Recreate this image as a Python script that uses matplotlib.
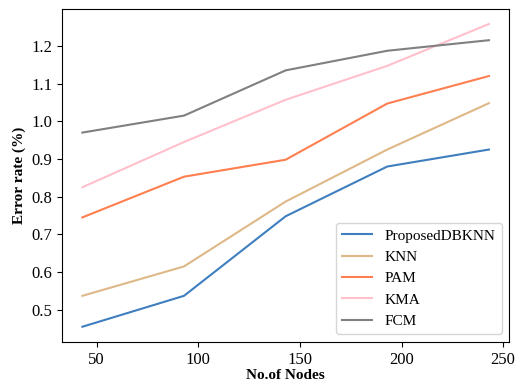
import matplotlib
matplotlib.use("Agg")
import matplotlib.pyplot as plt

nodes = [43, 93, 143, 193, 243]
proposed_dbknn = [0.455, 0.537, 0.748, 0.880, 0.925]
knn = [0.537, 0.615, 0.787, 0.925, 1.048]
pam = [0.745, 0.853, 0.898, 1.047, 1.120]
kma = [0.825, 0.945, 1.057, 1.147, 1.258]
fcm = [0.970, 1.015, 1.135, 1.187, 1.215]
x_ticks = [50, 100, 150, 200, 250]

plt.rcParams['font.family'] = ['Liberation Serif', 'DejaVu Serif']
plt.rcParams['font.size'] = 11

fig, ax = plt.subplots(figsize=(5.17, 3.85), dpi=100)
ax.plot(nodes, proposed_dbknn, color='#3f7fbf', label='ProposedDBKNN')
ax.plot(nodes, knn, color='burlywood', label='KNN')
ax.plot(nodes, pam, color='coral', label='PAM')
ax.plot(nodes, kma, color='pink', label='KMA')
ax.plot(nodes, fcm, color='gray', label='FCM')

ax.set_xticks(x_ticks)
ax.tick_params(labelsize=12)
ax.set_xlabel('No.of Nodes', fontweight='bold', labelpad=1)
ax.set_ylabel('Error rate (%)', fontweight='bold')
ax.legend(loc='lower right')

fig.subplots_adjust(left=0.12, right=0.985, top=0.977, bottom=0.112)
fig.savefig('out.png')
